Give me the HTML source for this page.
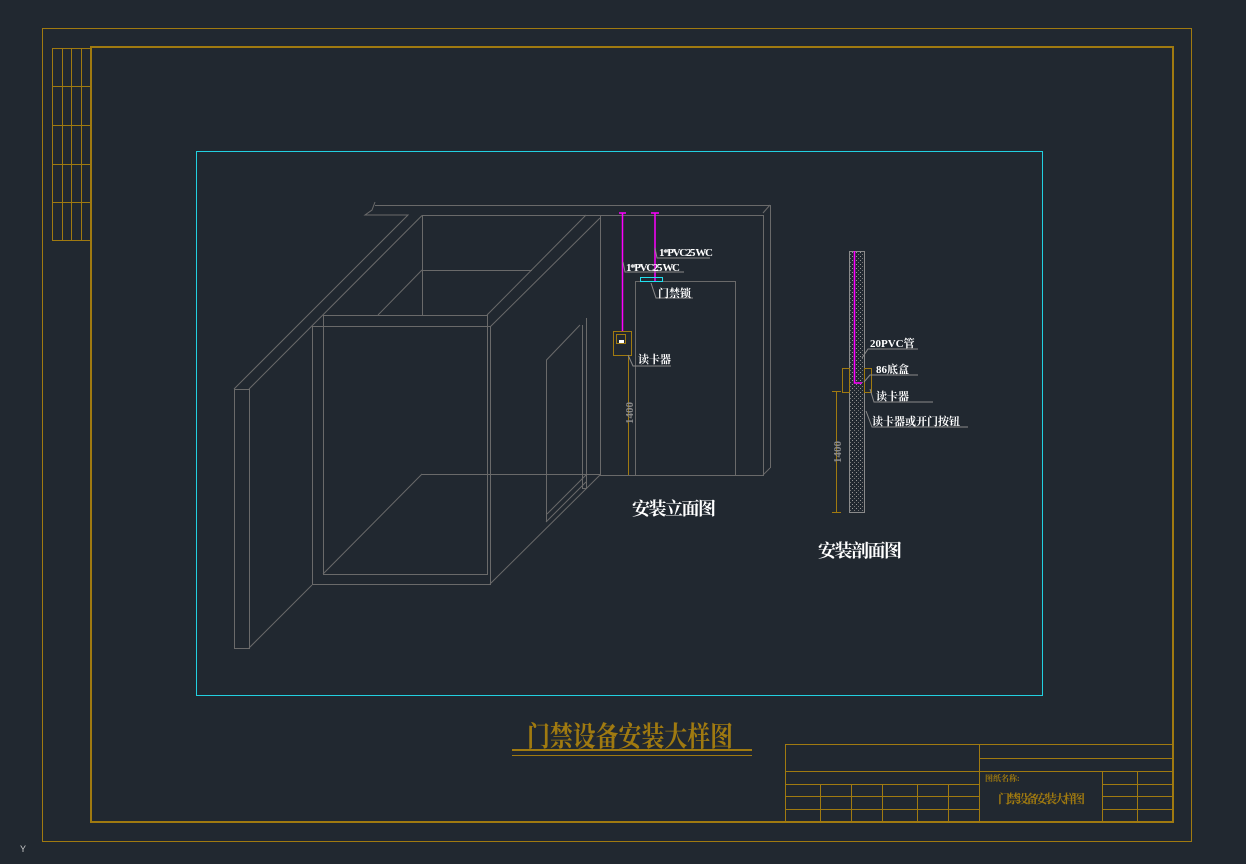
<!DOCTYPE html>
<html><head><meta charset="utf-8"><style>
html,body{margin:0;padding:0;background:#212830;}
svg{display:block}
.s{font-family:"Liberation Serif","Noto Serif CJK SC",serif;}
</style></head><body>
<svg width="1246" height="864" viewBox="0 0 1246 864" xmlns="http://www.w3.org/2000/svg">
<rect width="1246" height="864" fill="#212830"/>
<rect x="42.5" y="28.5" width="1149" height="813" fill="none" stroke="#a07a10" stroke-width="1"/>
<rect x="91" y="47" width="1082" height="775" fill="none" stroke="#a07a10" stroke-width="2"/>
<g stroke="#a07a10" stroke-width="1" fill="none">
<rect x="52.5" y="48.5" width="38" height="192"/>
<line x1="62.5" y1="48" x2="62.5" y2="241"/><line x1="71.5" y1="48" x2="71.5" y2="241"/><line x1="81.5" y1="48" x2="81.5" y2="241"/>
<line x1="52" y1="86.5" x2="91" y2="86.5"/><line x1="52" y1="125.5" x2="91" y2="125.5"/><line x1="52" y1="164.5" x2="91" y2="164.5"/><line x1="52" y1="202.5" x2="91" y2="202.5"/>
<rect x="785.5" y="744.5" width="388" height="78"/>
<line x1="979.5" y1="744" x2="979.5" y2="822"/>
<line x1="979" y1="758.5" x2="1173" y2="758.5"/>
<line x1="785" y1="771.5" x2="1173" y2="771.5"/>
<line x1="785" y1="784.5" x2="979" y2="784.5"/><line x1="785" y1="796.5" x2="979" y2="796.5"/><line x1="785" y1="809.5" x2="979" y2="809.5"/>
<line x1="820.5" y1="784" x2="820.5" y2="822"/><line x1="851.5" y1="784" x2="851.5" y2="822"/><line x1="882.5" y1="784" x2="882.5" y2="822"/><line x1="917.5" y1="784" x2="917.5" y2="822"/><line x1="948.5" y1="784" x2="948.5" y2="822"/>
<line x1="1102.5" y1="771" x2="1102.5" y2="822"/><line x1="1137.5" y1="771" x2="1137.5" y2="822"/>
<line x1="1102" y1="784.5" x2="1173" y2="784.5"/><line x1="1102" y1="796.5" x2="1173" y2="796.5"/><line x1="1102" y1="809.5" x2="1173" y2="809.5"/>
</g>
<text x="985" y="781" class="s" font-size="8" fill="#a07a10" font-weight="bold">图纸名称:</text>
<text x="998" y="803" class="s" font-size="12" fill="#a07a10" font-weight="bold" textLength="87">门禁设备安装大样图</text>
<rect x="196.5" y="151.5" width="846" height="544" fill="none" stroke="#22d0e0" stroke-width="1"/>
<text x="527" y="746" class="s" font-size="28" font-weight="bold" fill="#a07a10" textLength="206" lengthAdjust="spacingAndGlyphs">门禁设备安装大样图</text>
<line x1="512" y1="750" x2="752" y2="750" stroke="#a07a10" stroke-width="2"/>
<line x1="512" y1="755.5" x2="752" y2="755.5" stroke="#a07a10" stroke-width="1"/>
<g stroke="#6a6a6a" stroke-width="1" fill="none">
<polyline points="375,202 372,210 365,215 408,215 234,389"/>
<line x1="375" y1="205.5" x2="770" y2="205.5"/>
<line x1="422" y1="215.5" x2="249" y2="389"/>
<rect x="234.5" y="389.5" width="15" height="259"/>
<line x1="249" y1="648" x2="312" y2="585"/>
<rect x="312.5" y="326.5" width="178" height="258"/>
<rect x="323.5" y="315.5" width="164" height="259"/>
<line x1="422.5" y1="215" x2="422.5" y2="315"/>
<line x1="422" y1="270.5" x2="532" y2="270.5"/>
<line x1="422" y1="270" x2="378" y2="315"/>
<line x1="422" y1="215.5" x2="600" y2="215.5"/>
<line x1="586" y1="215" x2="487" y2="315"/>
<line x1="600" y1="218" x2="490" y2="327"/>
<line x1="422" y1="474.5" x2="600" y2="474.5"/>
<line x1="422" y1="474" x2="323" y2="574"/>
<line x1="600" y1="475" x2="490" y2="584"/>
<line x1="586" y1="475" x2="547" y2="514"/>
<polyline points="546.5,522 546.5,360 580,325"/>
<line x1="582.5" y1="325" x2="582.5" y2="488"/>
<line x1="586.5" y1="318" x2="586.5" y2="488"/>
<line x1="582" y1="488.5" x2="587" y2="488.5"/>
<line x1="546" y1="522" x2="586" y2="482"/>
<rect x="600.5" y="215.5" width="163" height="260"/>
<line x1="770.5" y1="205" x2="770.5" y2="468"/>
<line x1="770" y1="205" x2="763" y2="213"/>
<line x1="770" y1="468" x2="763" y2="475"/>
<polyline points="635.5,475 635.5,281.5 735.5,281.5 735.5,475"/>
</g>
<g stroke="#ff00ff" stroke-width="1.5">
<line x1="622.5" y1="213" x2="622.5" y2="332"/>
<line x1="655" y1="213" x2="655" y2="281"/>
<line x1="619" y1="213" x2="626" y2="213"/><line x1="651" y1="213" x2="659" y2="213"/>
</g>
<rect x="640.5" y="277.5" width="22" height="4" fill="none" stroke="#22e0f0"/>
<g stroke="#a07a10" fill="none">
<rect x="613.5" y="331.5" width="18" height="24"/>
<rect x="616.5" y="334.5" width="9" height="9"/>
<line x1="628.5" y1="355" x2="628.5" y2="475"/>
</g>
<rect x="619" y="340" width="5" height="3" fill="#fff"/>
<g stroke="#8a8a8a" fill="none">
<polyline points="655,248 657,258 710,258"/>
<polyline points="623,262 625,272 684,272"/>
<polyline points="651,283 656,298 693,298"/>
<polyline points="628,355 633,366 671,366"/>
</g>
<text x="0" y="0" transform="translate(633,424) rotate(-90)" class="s" font-size="11" fill="#8a8a8a" font-weight="bold">1400</text>
<g class="s" fill="#fff" font-weight="bold">
<text x="659" y="256" font-size="11" textLength="54">1*PVC25 WC</text>
<text x="626" y="271" font-size="11" textLength="54">1*PVC25 WC</text>
<text x="658" y="297" font-size="11">门禁锁</text>
<text x="638" y="363" font-size="11">读卡器</text>
<text x="632" y="515" font-size="18" textLength="84">安装立面图</text>
<text x="818" y="557" font-size="18" textLength="84">安装剖面图</text>
</g>
<defs><pattern id="dots" width="4" height="4" patternUnits="userSpaceOnUse"><rect x="0" y="0" width="1" height="1" fill="#9a9a9a"/><rect x="2" y="2" width="1" height="1" fill="#777"/></pattern></defs>
<rect x="849.5" y="251.5" width="15" height="261" fill="url(#dots)" stroke="#8a8a8a"/>
<polyline points="854.5,251 854.5,383 862,383" stroke="#ff00ff" stroke-width="1.5" fill="none"/>
<g stroke="#a07a10" fill="none">
<rect x="842.5" y="368.5" width="7" height="24"/>
<rect x="864.5" y="368.5" width="7" height="24"/>
<line x1="836.5" y1="391" x2="836.5" y2="512"/>
<line x1="832" y1="391.5" x2="841" y2="391.5"/><line x1="832" y1="512.5" x2="841" y2="512.5"/>
</g>
<text x="0" y="0" transform="translate(841,463) rotate(-90)" class="s" font-size="11" fill="#8a8a8a" font-weight="bold">1400</text>
<g stroke="#8a8a8a" fill="none">
<polyline points="862,358 868,349 918,349"/>
<polyline points="864,382 870,375 918,375"/>
<polyline points="870,389 874,402 933,402"/>
<polyline points="866,411 872,427 968,427"/>
</g>
<g class="s" fill="#fff" font-weight="bold" font-size="11">
<text x="870" y="347">20PVC管</text>
<text x="876" y="373">86底盒</text>
<text x="876" y="400">读卡器</text>
<text x="872" y="425">读卡器或开门按钮</text>
</g>
<text x="20" y="852" font-size="9" fill="#ccc" font-family="Liberation Sans,sans-serif">Y</text>
</svg>
</body></html>
